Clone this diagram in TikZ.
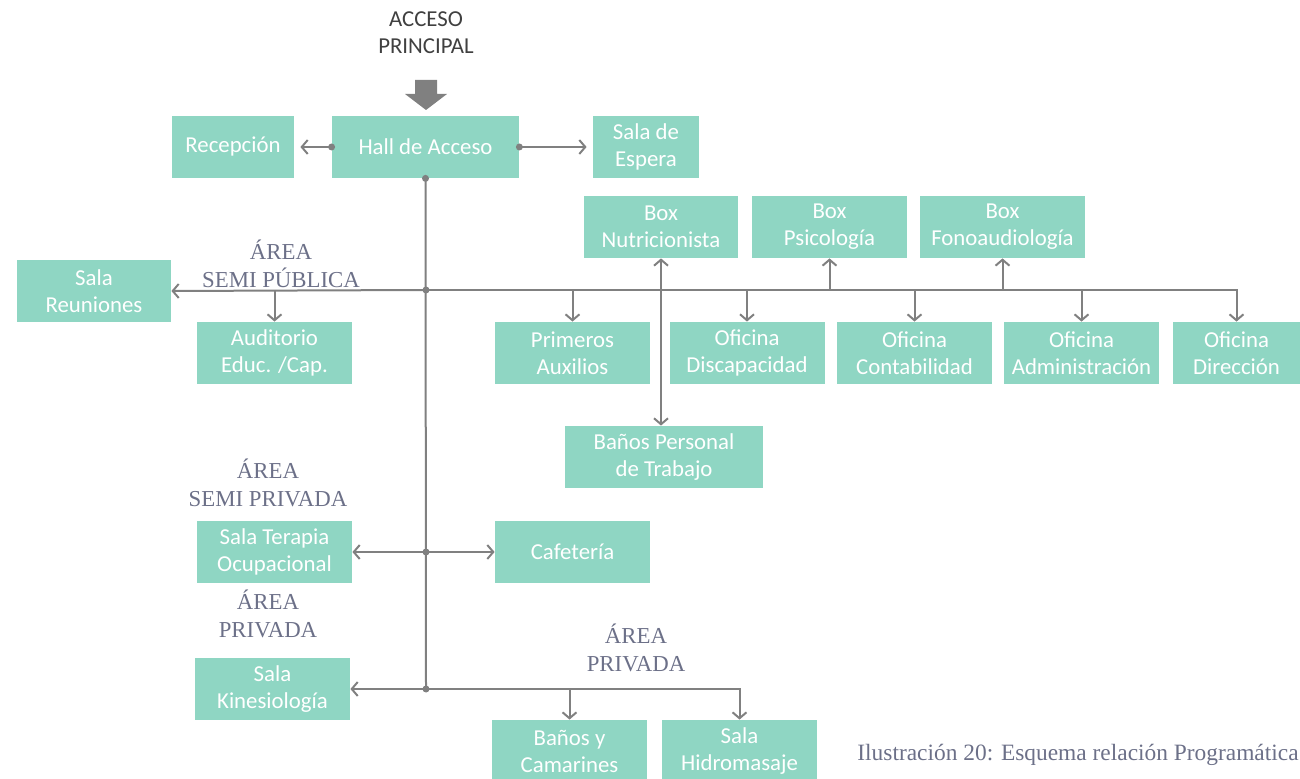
\documentclass[tikz,border=0pt]{standalone}
\usepackage{fontspec}
\setmainfont{Liberation Serif}
\newfontfamily\boxfont{Carlito}
\usetikzlibrary{arrows.meta}
\definecolor{salaverde}{RGB}{143,214,195}
\definecolor{lineagris}{RGB}{128,128,128}
\definecolor{areagris}{RGB}{108,112,136}
\tikzset{
  sala/.style={fill=salaverde, text=white, font=\boxfont\fontsize{11.4}{13.5}\selectfont,
    align=center, inner sep=0pt, minimum height=31pt, minimum width=77.5pt},
  area/.style={text=areagris, font=\fontsize{11.4}{14}\selectfont, align=center},
  flecha/.style={draw=lineagris, line width=1pt, >={Straight Barb[length=3pt,width=7pt]}, ->},
  linea/.style={draw=lineagris, line width=1pt},
  punto/.style={fill=lineagris, draw=none}
}
\begin{document}
\begin{tikzpicture}[x=0.5pt,y=-0.5pt]
      \useasboundingbox (0,0) rectangle (1300,779);
      % acceso
      \node[text=black!75, font=\boxfont\fontsize{11.4}{13.5}\selectfont, align=center] (acceso) at (426,33) {ACCESO\\PRINCIPAL};
      \fill[lineagris] (415,80) -- (437,80) -- (437,94) -- (447,94) -- (426,110) -- (405,94) -- (415,94) -- cycle;
      % primera fila
      \node[sala, minimum width=61pt] (rec) at (233,147) {Recepción};
      \node[sala, minimum width=93.5pt] (hall) at (425.5,147) {Hall de Acceso};
      \node[sala, minimum width=53pt] (espera) at (646,147) {Sala de\\Espera};
      % boxes
      \node[sala, minimum width=77pt] (nutri) at (661,227) {Box\\Nutricionista};
      \node[sala] (psico) at (829.5,227) {Box\\Psicología};
      \node[sala, minimum width=82.5pt] (fono) at (1002.5,227) {Box\\Fonoaudiología};
      % area semi publica
      \node[area] (semipub) at (281,264) {ÁREA\\SEMI PÚBLICA};
      \node[sala, minimum width=77pt] (reun) at (94,291) {Sala\\Reuniones};
      \node[sala] (audit) at (274.5,353) {Auditorio\\Educ. /Cap.};
      \node[sala] (primeros) at (572.5,353) {Primeros\\Auxilios};
      \node[sala] (discap) at (747,353) {Oficina\\Discapacidad};
      \node[sala] (contab) at (914.5,353) {Oficina\\Contabilidad};
      \node[sala] (admin) at (1081.5,353) {Oficina\\Administración};
      \node[sala, minimum width=63.5pt] (direc) at (1236.5,353) {Oficina\\Dirección};
      \node[sala, minimum width=99pt] (banoper) at (664,457) {Baños Personal\\de Trabajo};
      % area semi privada
      \node[area] (semipriv) at (268,483) {ÁREA\\SEMI PRIVADA};
      \node[sala] (terapia) at (274.5,552) {Sala Terapia\\Ocupacional};
      \node[sala] (cafe) at (572.5,552) {Cafetería};
      % area privada
      \node[area] (priv1) at (268,614) {ÁREA\\PRIVADA};
      \node[area] (priv2) at (636,648) {ÁREA\\PRIVADA};
      \node[sala] (kine) at (272.5,689) {Sala\\Kinesiología};
      \node[sala] (banocam) at (569.5,751) {Baños y\\Camarines};
      \node[sala] (hidro) at (739.5,751) {Sala\\Hidromasaje};
      \node[area, anchor=east, inner sep=0pt, font=\fontsize{11.7}{14}\selectfont] (caption) at (1299,755) {Ilustración 20: Esquema relación Programática};
      % puntos de union
      \coordinate (j1) at (426,290);
      \coordinate (j2) at (426,552);
      \coordinate (j3) at (426,689);
      % conexiones
      \draw[flecha, shorten >=3pt] (hall.west) -- (rec.east);
      \draw[flecha, shorten >=3pt] (hall.east) -- (espera.west);
      \draw[linea] (hall.south) -- (j3);
      \draw[flecha] (j1) -- (reun.east);
      \draw[flecha] (j1) -| (direc.north);
      \foreach \n in {audit,primeros,discap,contab,admin}
        \draw[flecha] (\n.north |- j1) -- (\n.north);
      \foreach \n in {psico,fono}
        \draw[flecha] (\n.south |- j1) -- (\n.south);
      \draw[flecha, <->] (nutri.south) -- (nutri.south |- banoper.north);
      \draw[flecha] (j2) -- (terapia.east);
      \draw[flecha] (j2) -- (cafe.west);
      \draw[flecha] (j3) -- (kine.east);
      \draw[flecha] (j3) -| (hidro.north);
      \draw[flecha] (banocam.north |- j3) -- (banocam.north);
      \foreach \p in {hall.west,hall.east,hall.south,j1,j2,j3}
        \fill[punto] (\p) circle (3.5);
\end{tikzpicture}
\end{document}
